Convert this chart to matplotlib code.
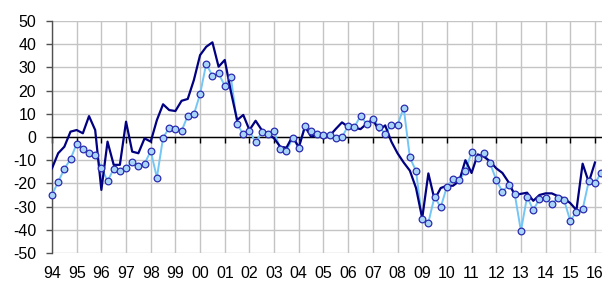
import numpy as np
import matplotlib
matplotlib.use("Agg")
import matplotlib.pyplot as plt

plt.rcParams['font.family'] = ['Liberation Sans', 'DejaVu Sans']
plt.rcParams['axes.unicode_minus'] = False

# quarterly values, first point = 1994 Q1
start_year = 1994
dark_vals = [
    -13.5, -7, -4.2, 2.3,        # 94
    3, 1.6, 9, 3,                # 95
    -22.8, -2, -12, -12,         # 96
    6.6, -6.3, -7, -0.6,         # 97
    -2, 7.3, 14.1, 11.6,         # 98
    11.2, 15.6, 16.4, 24.6,      # 99
    35.3, 38.9, 40.8, 30.3,      # 00
    33.2, 19.5, 7.3, 9.5,        # 01
    3, 7, 3, 1.6,                # 02
    -0.6, -4.2, -4.6, 0.4,       # 03
    -4.5, 4.5, 0.1, 1.1,         # 04
    -0.6, 0.5, 3.5, 6.3,         # 05
    4.4, 4, 3.4, 5.7,            # 06
    7.5, 2.8, 5, -2,             # 07
    -7, -11, -14.5, -22,         # 08
    -35, -15.7, -27, -22,        # 09
    -21, -21, -19, -10,          # 10
    -15.5, -7.5, -8.5, -10.5,    # 11
    -13.5, -15.5, -19.5, -25,    # 12
    -24.5, -24, -27.5, -25,      # 13
    -24.3, -24.3, -25.5, -26.5,  # 14
    -28.5, -31.5, -11.5, -19.5,  # 15
    -11,                         # 16
]
light_vals = [
    -25, -19.3, -13.8, -9.5,     # 94
    -2.9, -5.3, -7, -7.6,        # 95
    -13.2, -19, -13.8, -14.6,    # 96
    -13.5, -10.6, -12.3, -11.5,  # 97
    -6.1, -17.5, -0.3, 4,        # 98
    3.6, 2.6, 9.2, 9.8,          # 99
    18.5, 31.6, 26.3, 27.4,      # 00
    22.1, 25.7, 5.6, 1.2,        # 01
    2.6, -2.3, 2, 1.1,           # 02
    2.6, -5.3, -5.9, -0.6,       # 03
    -4.6, 4.9, 2.6, 1.1,         # 04
    0.9, 1, -0.5, 0,             # 05
    4.7, 4.2, 9.1, 5.6,          # 06
    7.8, 4.5, 1.3, 5.2,          # 07
    5.2, 12.6, -8.8, -14.7,      # 08
    -35.5, -36.9, -25.7, -30.3,  # 09
    -21.4, -17.9, -18.7, -14.7,  # 10
    -6.6, -9.2, -7, -11.3,       # 11
    -18.5, -23.6, -20.7, -24.6,  # 12
    -40.5, -25.7, -31.5, -26.7,  # 13
    -26.4, -29, -26.2, -27.2,    # 14
    -36.2, -32.2, -31.2, -19,    # 15
    -20, -15.4,                  # 16
]
year_ticks = list(range(1994, 2017))
year_labels = ["%02d" % (y % 100) for y in year_ticks]
y_ticks = list(range(-50, 51, 10))

t_dark = start_year + np.arange(len(dark_vals)) / 4.0
t_light = start_year + np.arange(len(light_vals)) / 4.0

fig = plt.figure(figsize=(6.02, 2.82), dpi=100)
ax = fig.add_axes([52 / 602, 1 - 253 / 282, 550 / 602, 232 / 282])

ax.plot(t_light, light_vals, color="#73c6f5", lw=1.4, zorder=3)
ax.plot(t_dark, dark_vals, color="#000080", lw=1.6, zorder=4)
ax.plot(t_light, light_vals, ls="none", marker="o", ms=4.8,
        mfc="#a8d4f8", mec="#2b2bb0", mew=0.9, zorder=5, clip_on=False)

ax.set_xlim(1994, 1994 + 550 / 24.68)
ax.set_ylim(-50, 50)
ax.set_yticks(y_ticks)
ax.set_xticks(year_ticks)
ax.grid(True, color="#c4c4c4", lw=1.0, zorder=0)
ax.set_axisbelow(True)

for s in ["top", "right"]:
    ax.spines[s].set_visible(False)
ax.spines["left"].set_color("#505050")
ax.spines["left"].set_linewidth(1.0)
ax.spines["bottom"].set_position(("data", 0))
ax.spines["bottom"].set_color("black")
ax.spines["bottom"].set_linewidth(1.0)

ax.tick_params(axis="x", direction="out", length=4, width=1, color="black",
               labelbottom=False)
ax.tick_params(axis="y", direction="out", length=4, width=1, color="#505050",
               labelsize=11.5, pad=7.5)

# year labels below the plot
for y, lab in zip(year_ticks, year_labels):
    ax.text(y, -55.5, lab, ha="center", va="top", fontsize=11.5)

fig.savefig("out.png", dpi=100)
